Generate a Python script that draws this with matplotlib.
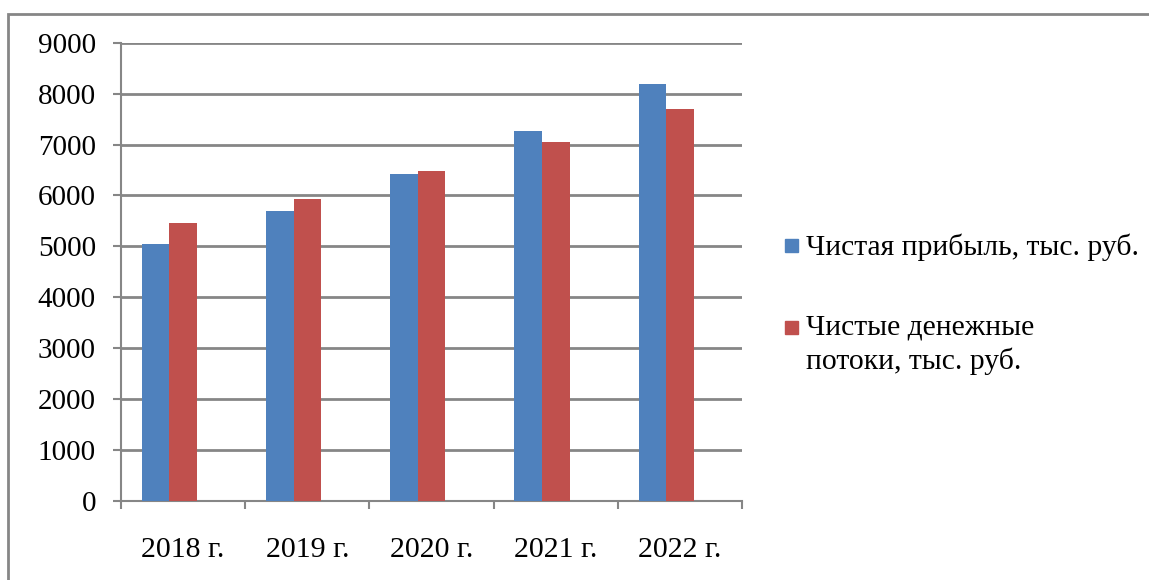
import matplotlib
matplotlib.use("Agg")
import matplotlib.pyplot as plt
from matplotlib.patches import Rectangle
import numpy as np

years = ["2018 г.", "2019 г.", "2020 г.", "2021 г.", "2022 г."]
profit = [5050, 5700, 6430, 7260, 8180]
cash_flow = [5460, 5940, 6480, 7050, 7700]
labels = ["Чистая прибыль, тыс. руб.", "Чистые денежные\nпотоки, тыс. руб."]

blue = "#4F81BD"
red = "#C0504D"
grey = "#868686"

plt.rcParams["font.family"] = ["Liberation Serif", "DejaVu Serif"]

W, H = 1149, 580
fig = plt.figure(figsize=(W / 100, H / 100), dpi=100)

# outer chart frame (runs off right and bottom edges)
fig.patches.append(Rectangle((8 / W, -0.1), 1.2, 1 - 14 / H + 0.1,
                             transform=fig.transFigure, fill=False,
                             edgecolor=grey, linewidth=2))

ax = fig.add_axes([121 / W, 1 - 501 / H, 621 / W, (501 - 42.7) / H])

x = np.arange(len(years)) + 0.5
w = 1 / 4.5
ax.bar(x - w, profit, w, align="center", color=blue, zorder=3)
ax.bar(x, cash_flow, w, align="center", color=red, zorder=3)

ax.set_xlim(0, len(years))
ax.set_ylim(0, 9000)
ax.set_yticks(range(0, 9001, 1000))
ax.set_xticks(np.arange(len(years) + 1))
ax.set_xticklabels([])
ax.set_xticks(x, minor=True)
ax.set_xticklabels(years, minor=True)
ax.tick_params(axis="x", which="minor", length=0, pad=26, labelsize=21.5)
ax.tick_params(axis="x", which="major", length=6, width=1.5, color=grey, direction="out")
ax.tick_params(axis="y", length=6, width=1.5, color=grey, pad=12, labelsize=21)

ax.yaxis.grid(True, color=grey, linewidth=2)
ax.set_axisbelow(True)
for s in ["top", "right"]:
    ax.spines[s].set_visible(False)
for s in ["left", "bottom"]:
    ax.spines[s].set_color(grey)
    ax.spines[s].set_linewidth(1.5)

# legend, Excel style: marker aligned with first line
for color, label, ytop in [(blue, labels[0], 245), (red, labels[1], 327)]:
    fig.patches.append(Rectangle((785 / W, 1 - (ytop + 7) / H), 13 / W, 13 / H,
                                 transform=fig.transFigure, color=color))
    fig.text(806 / W, 1 - (ytop - 12) / H, label, fontsize=21.3, va="top",
             ha="left", linespacing=1.3)

fig.savefig("out.png", dpi=100)
